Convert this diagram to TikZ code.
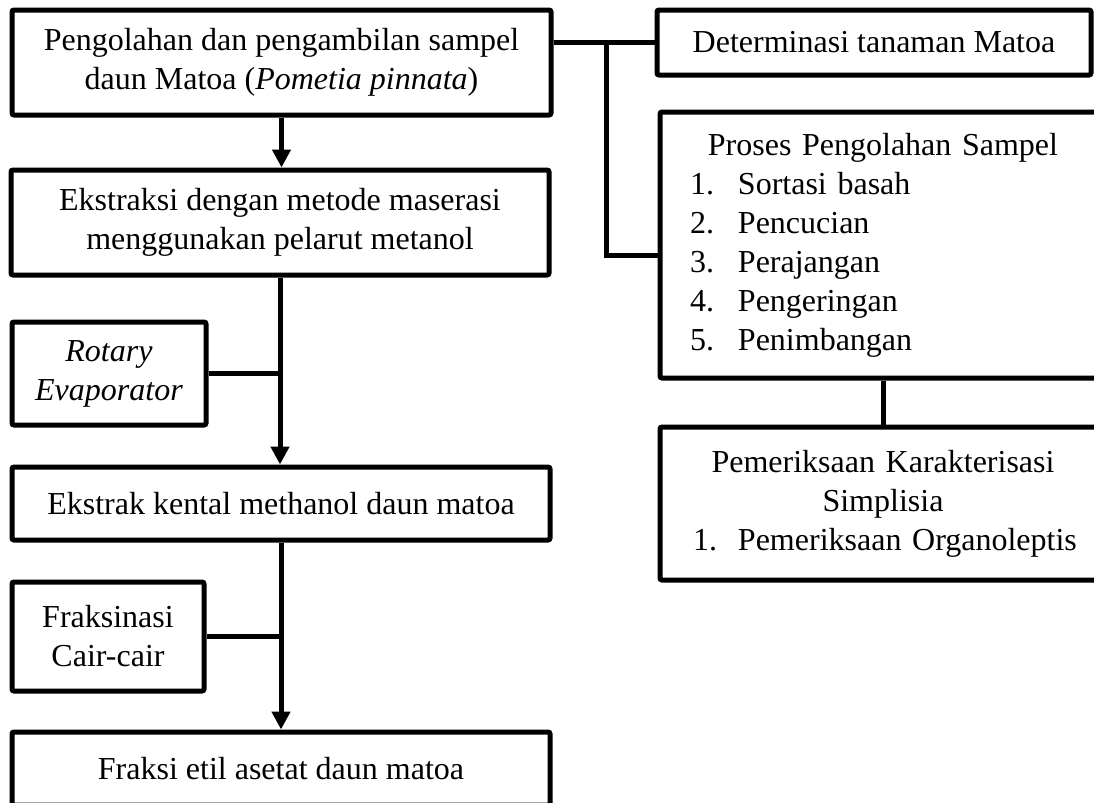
\documentclass[tikz,border=0pt]{standalone}
\usepackage{fontspec}
\setmainfont{Liberation Serif}
\usetikzlibrary{arrows.meta}

\begin{document}
\begin{tikzpicture}[x=0.5pt,y=-0.5pt,
	box/.style={draw, line width=2.5pt, rounded corners=1pt, align=center,
		font=\fontsize{16}{19.5}\selectfont, inner sep=0pt},
	link/.style={line width=2.5pt},
	flow/.style={line width=2.5pt, -{Triangle[width=9pt,length=9pt]}}]
	\path[use as bounding box, clip] (0,0) rectangle (1094,803);
	% main column
	\node[box, minimum width=269.5pt, minimum height=52.5pt] (sampel) at (281.5,62.5)
		{Pengolahan dan pengambilan sampel\\daun Matoa (\textit{Pometia pinnata})};
	\node[box, minimum width=269pt, minimum height=52.5pt] (maserasi) at (280,222.5)
		{Ekstraksi dengan metode maserasi\\menggunakan pelarut metanol};
	\node[box, minimum width=97pt, minimum height=51.5pt] (rotary) at (109,373.5)
		{\textit{Rotary}\\\textit{Evaporator}};
	\node[box, minimum width=269pt, minimum height=36.5pt] (kental) at (281,503.5)
		{Ekstrak kental methanol daun matoa};
	\node[box, minimum width=96pt, minimum height=54.5pt] (fraksinasi) at (108,636.5)
		{Fraksinasi\\Cair-cair};
	\node[box, minimum width=269pt, minimum height=36.5pt] (etil) at (281,768.5)
		{Fraksi etil asetat daun matoa};
	% right column
	\node[box, minimum width=217pt, minimum height=32.5pt] (determinasi) at (874,42.5)
		{Determinasi tanaman Matoa};
	\node[box, minimum width=223pt, minimum height=133pt, text width=200pt, align=left] (proses) at (883,245)
		{\makebox[200pt]{Proses Pengolahan Sampel}\\
		\hspace*{3.5pt}\makebox[24pt][l]{1.}Sortasi basah\\
		\hspace*{3.5pt}\makebox[24pt][l]{2.}Pencucian\\
		\hspace*{3.5pt}\makebox[24pt][l]{3.}Perajangan\\
		\hspace*{3.5pt}\makebox[24pt][l]{4.}Pengeringan\\
		\hspace*{3.5pt}\makebox[24pt][l]{5.}Penimbangan};
	\node[box, minimum width=223pt, minimum height=76.5pt, text width=200pt, align=left] (karakter) at (883,503.5)
		{\makebox[200pt]{Pemeriksaan Karakterisasi}\\
		\makebox[200pt]{Simplisia}\\
		\hspace*{5pt}\makebox[22.5pt][l]{1.}Pemeriksaan Organoleptis};
	% connectors
	\draw[flow] (sampel.south) -- (sampel.south |- maserasi.north);
	\draw[flow] (maserasi.south) -- (maserasi.south |- kental.north);
	\draw[link] (rotary.east) -- (rotary.east -| maserasi.south);
	\draw[flow] (kental.south) -- (kental.south |- etil.north);
	\draw[link] (fraksinasi.east) -- (fraksinasi.east -| kental.south);
	\draw[link] (sampel.east |- determinasi.west) -- (determinasi.west);
	\coordinate (cabang) at (606,42.5);
	\draw[link] (cabang) |- ([yshift=-5pt]proses.west);
	\draw[link] (proses.south) -- (karakter.north);
\end{tikzpicture}
\end{document}
